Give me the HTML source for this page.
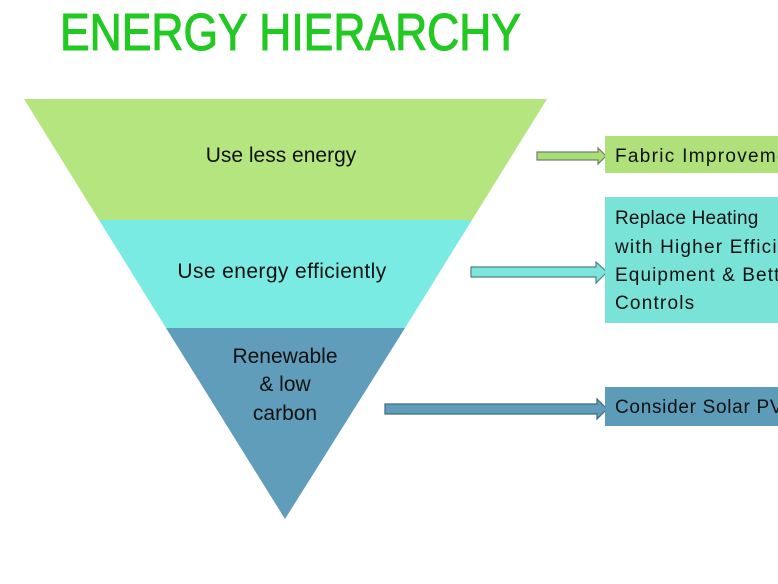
<!DOCTYPE html>
<html>
<head>
<meta charset="utf-8">
<style>
  html,body{margin:0;padding:0;background:#fff;}
  body{width:778px;height:584px;overflow:hidden;}
  svg{display:block;}
  text{font-family:"Liberation Sans", sans-serif;}
</style>
</head>
<body>
<svg width="778" height="584" viewBox="0 0 778 584" xmlns="http://www.w3.org/2000/svg">
  <rect width="778" height="584" fill="#ffffff"/>
  <!-- Title -->
  <text x="60" y="50" font-size="52" fill="#22c922" stroke="#22c922" stroke-width="1.1" textLength="461" lengthAdjust="spacingAndGlyphs">ENERGY HIERARCHY</text>

  <!-- Inverted triangle bands -->
  <polygon points="24,99 547,99 472,220 99,220" fill="#b5e57e"/>
  <polygon points="99,220 472,220 405,328 166,328" fill="#7aebe2"/>
  <polygon points="166,328 405,328 285,519" fill="#5f9dbb"/>

  <!-- Band labels -->
  <text x="281" y="162" font-size="21" fill="#111" text-anchor="middle">Use less energy</text>
  <text x="282" y="278" font-size="21" fill="#111" text-anchor="middle" letter-spacing="0.4">Use energy efficiently</text>
  <text x="285" y="363" font-size="21" fill="#111" text-anchor="middle">Renewable</text>
  <text x="285" y="391" font-size="21" fill="#111" text-anchor="middle">&amp; low</text>
  <text x="285" y="420" font-size="21" fill="#111" text-anchor="middle">carbon</text>

  <!-- Arrows -->
  <polygon points="537,152 598,152 598,148 606,156 598,164 598,160 537,160" fill="#a9de72" stroke="#6f7f72" stroke-width="1.2"/>
  <polygon points="471,267 596,267 596,262 607,272 596,283 596,277 471,277" fill="#7de6dc" stroke="#4f7f8a" stroke-width="1.2"/>
  <polygon points="385,404 597,404 597,399 607,409 597,419 597,414 385,414" fill="#5f9dbb" stroke="#3e6c85" stroke-width="1.2"/>

  <!-- Right boxes -->
  <rect x="605" y="136" width="180" height="37" fill="#b0e07a"/>
  <rect x="605" y="197" width="180" height="126" fill="#79e3d8"/>
  <rect x="605" y="387" width="180" height="39" fill="#5d9cb9"/>

  <text x="615" y="162" font-size="19" fill="#111" letter-spacing="1.3">Fabric Improvements</text>
  <text x="615" y="224" font-size="19" fill="#111" letter-spacing="0.2">Replace Heating</text>
  <text x="615" y="253" font-size="19" fill="#111" letter-spacing="1.2">with Higher Efficiency</text>
  <text x="615" y="281" font-size="19" fill="#111" letter-spacing="1.1">Equipment &amp; Better</text>
  <text x="615" y="309" font-size="19" fill="#111" letter-spacing="1.2">Controls</text>
  <text x="615" y="413" font-size="19" fill="#111" letter-spacing="0.7">Consider Solar PV</text>
</svg>
</body>
</html>
